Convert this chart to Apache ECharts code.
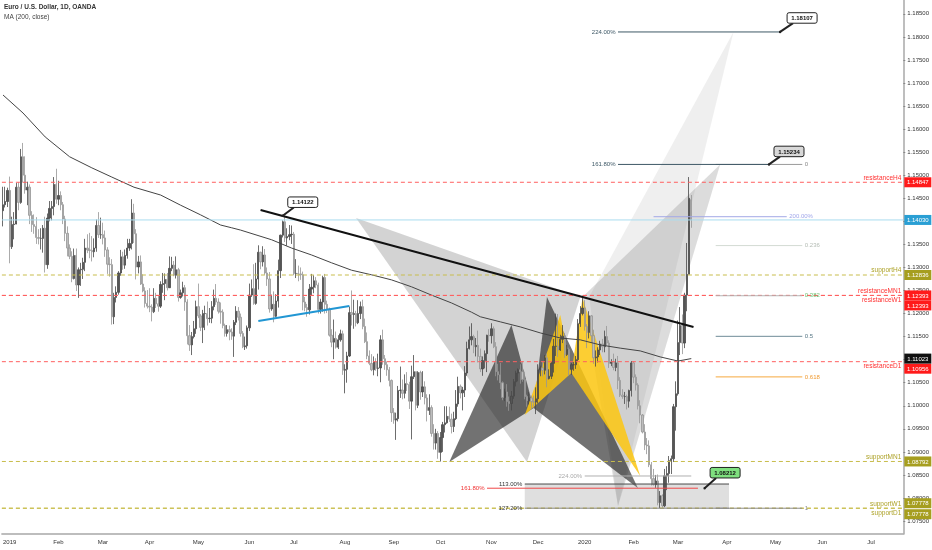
<!DOCTYPE html>
<html><head><meta charset="utf-8">
<script src="https://cdn.jsdelivr.net/npm/echarts@6/dist/echarts.min.js"></script>
<style>html,body{margin:0;padding:0;background:#fff}#c{width:932px;height:550px}</style>
</head><body><div id="c"></div>
<script>
const FONT = '"Liberation Sans", Arial, sans-serif';
const monthNames = ['Jan','Feb','Mar','Apr','May','Jun','Jul','Aug','Sep','Oct','Nov','Dec'];

// Trading-day categories (weekdays, no Jan 1 / Dec 25), starting 2018-12-27
const dates = [];
(function(){ const d = new Date(Date.UTC(2018,11,27));
  while (dates.length < 406) { const wd=d.getUTCDay(), m=d.getUTCMonth(), dd=d.getUTCDate();
    if (wd!==0 && wd!==6 && !(m===0&&dd===1) && !(m===11&&dd===25)) dates.push(d.toISOString().slice(0,10));
    d.setUTCDate(dd+1); } })();

// Daily candles [open, high, low, close]
const candles = [
[1.1423,1.1475,1.1389,1.1436],[1.1436,1.1475,1.1430,1.1443],[1.1443,1.1473,1.1431,1.1467],
// Jan 2019
[1.1467,1.1497,1.1309,1.1345],[1.1345,1.1410,1.1340,1.1393],[1.1393,1.1420,1.1361,1.1394],[1.1394,1.1483,1.1395,1.1474],[1.1474,1.1485,1.1424,1.1441],
[1.1441,1.1557,1.1438,1.1540],[1.1540,1.1570,1.1484,1.1500],[1.1500,1.1541,1.1460,1.1468],[1.1468,1.1486,1.1435,1.1474],[1.1474,1.1480,1.1394,1.1413],
[1.1413,1.1422,1.1377,1.1393],[1.1393,1.1415,1.1373,1.1389],[1.1389,1.1409,1.1351,1.1365],[1.1365,1.1383,1.1350,1.1363],[1.1363,1.1385,1.1339,1.1363],
[1.1363,1.1392,1.1332,1.1385],[1.1385,1.1410,1.1289,1.1306],[1.1306,1.1417,1.1297,1.1407],[1.1407,1.1444,1.1400,1.1428],[1.1428,1.1444,1.1402,1.1432],
[1.1432,1.1496,1.1413,1.1480],[1.1480,1.1514,1.1438,1.1448],
// Feb 2019
[1.1448,1.1488,1.1435,1.1456],[1.1456,1.1465,1.1424,1.1436],[1.1436,1.1442,1.1394,1.1405],[1.1405,1.1412,1.1357,1.1374],[1.1374,1.1389,1.1324,1.1342],
[1.1342,1.1350,1.1318,1.1324],[1.1324,1.1335,1.1268,1.1276],[1.1276,1.1341,1.1274,1.1326],[1.1326,1.1341,1.1249,1.1262],[1.1262,1.1300,1.1234,1.1295],
[1.1295,1.1310,1.1260,1.1296],[1.1296,1.1321,1.1275,1.1311],[1.1311,1.1362,1.1292,1.1342],[1.1342,1.1372,1.1331,1.1338],[1.1338,1.1375,1.1320,1.1337],
[1.1337,1.1368,1.1313,1.1334],[1.1334,1.1363,1.1322,1.1342],[1.1342,1.1404,1.1334,1.1391],[1.1391,1.1420,1.1364,1.1371],[1.1371,1.1408,1.1362,1.1371],
// Mar 2019
[1.1371,1.1397,1.1350,1.1364],[1.1364,1.1380,1.1323,1.1338],[1.1338,1.1344,1.1286,1.1307],[1.1307,1.1322,1.1280,1.1306],[1.1306,1.1318,1.1176,1.1193],
[1.1193,1.1245,1.1177,1.1235],[1.1235,1.1259,1.1224,1.1246],[1.1246,1.1292,1.1241,1.1288],[1.1288,1.1338,1.1282,1.1323],[1.1323,1.1334,1.1295,1.1305],
[1.1305,1.1339,1.1297,1.1326],[1.1326,1.1362,1.1319,1.1342],[1.1342,1.1362,1.1336,1.1352],[1.1352,1.1448,1.1339,1.1418],[1.1418,1.1438,1.1353,1.1373],
[1.1373,1.1383,1.1274,1.1301],[1.1301,1.1325,1.1287,1.1312],[1.1312,1.1326,1.1262,1.1264],[1.1264,1.1285,1.1246,1.1249],[1.1249,1.1257,1.1213,1.1222],
[1.1222,1.1251,1.1211,1.1216],
// Apr 2019
[1.1216,1.1255,1.1203,1.1214],[1.1214,1.1220,1.1183,1.1204],[1.1204,1.1255,1.1201,1.1233],[1.1233,1.1245,1.1212,1.1221],[1.1221,1.1238,1.1204,1.1216],
[1.1216,1.1270,1.1212,1.1263],[1.1263,1.1288,1.1245,1.1265],[1.1265,1.1287,1.1229,1.1274],[1.1274,1.1288,1.1250,1.1256],[1.1256,1.1324,1.1257,1.1298],
[1.1298,1.1323,1.1292,1.1305],[1.1305,1.1314,1.1281,1.1283],[1.1283,1.1324,1.1276,1.1295],[1.1295,1.1299,1.1226,1.1235],[1.1235,1.1252,1.1232,1.1245],
[1.1245,1.1269,1.1237,1.1256],[1.1256,1.1262,1.1206,1.1225],[1.1225,1.1231,1.1133,1.1152],[1.1152,1.1175,1.1119,1.1132],[1.1132,1.1160,1.1110,1.1150],
[1.1150,1.1184,1.1146,1.1167],[1.1167,1.1228,1.1156,1.1215],
// May 2019
[1.1215,1.1265,1.1190,1.1195],[1.1195,1.1199,1.1162,1.1170],[1.1170,1.1208,1.1136,1.1200],[1.1200,1.1217,1.1164,1.1200],[1.1200,1.1226,1.1174,1.1189],
[1.1189,1.1212,1.1180,1.1190],[1.1190,1.1227,1.1179,1.1215],[1.1215,1.1252,1.1207,1.1233],[1.1233,1.1264,1.1219,1.1225],[1.1225,1.1233,1.1200,1.1205],
[1.1205,1.1224,1.1178,1.1203],[1.1203,1.1209,1.1168,1.1174],[1.1174,1.1178,1.1150,1.1157],[1.1157,1.1175,1.1150,1.1165],[1.1165,1.1174,1.1142,1.1160],
[1.1160,1.1168,1.1143,1.1151],[1.1151,1.1186,1.1106,1.1181],[1.1181,1.1216,1.1175,1.1205],[1.1205,1.1214,1.1185,1.1192],[1.1192,1.1200,1.1150,1.1157],
[1.1157,1.1162,1.1125,1.1128],[1.1128,1.1150,1.1121,1.1130],[1.1130,1.1174,1.1124,1.1169],
// Jun 2019
[1.1169,1.1265,1.1162,1.1240],[1.1240,1.1274,1.1236,1.1254],[1.1254,1.1307,1.1219,1.1222],[1.1222,1.1310,1.1219,1.1275],[1.1275,1.1348,1.1252,1.1333],
[1.1333,1.1334,1.1296,1.1312],[1.1312,1.1346,1.1302,1.1327],[1.1327,1.1340,1.1284,1.1288],[1.1288,1.1300,1.1260,1.1275],[1.1275,1.1290,1.1202,1.1210],
[1.1210,1.1241,1.1206,1.1220],[1.1220,1.1248,1.1181,1.1194],[1.1194,1.1242,1.1192,1.1227],[1.1227,1.1317,1.1213,1.1293],[1.1293,1.1371,1.1277,1.1370],
[1.1370,1.1402,1.1365,1.1399],[1.1399,1.1412,1.1355,1.1364],[1.1364,1.1385,1.1347,1.1367],[1.1367,1.1392,1.1359,1.1371],[1.1371,1.1391,1.1351,1.1372],
// Jul 2019
[1.1372,1.1377,1.1283,1.1287],[1.1287,1.1318,1.1277,1.1287],[1.1287,1.1304,1.1270,1.1286],[1.1286,1.1300,1.1273,1.1284],[1.1284,1.1291,1.1207,1.1225],
[1.1225,1.1236,1.1205,1.1213],[1.1213,1.1221,1.1193,1.1208],[1.1208,1.1264,1.1198,1.1253],[1.1253,1.1286,1.1238,1.1257],[1.1257,1.1283,1.1244,1.1271],
[1.1271,1.1279,1.1255,1.1262],[1.1262,1.1267,1.1200,1.1209],[1.1209,1.1232,1.1200,1.1225],[1.1225,1.1282,1.1204,1.1278],[1.1278,1.1286,1.1200,1.1220],
[1.1220,1.1228,1.1201,1.1210],[1.1210,1.1213,1.1150,1.1153],[1.1153,1.1166,1.1127,1.1138],[1.1138,1.1187,1.1101,1.1146],[1.1146,1.1161,1.1124,1.1127],
[1.1127,1.1153,1.1123,1.1143],[1.1143,1.1165,1.1139,1.1156],[1.1156,1.1163,1.1067,1.1077],
// Aug 2019
[1.1077,1.1090,1.1027,1.1079],[1.1079,1.1117,1.1050,1.1108],[1.1108,1.1215,1.1106,1.1202],[1.1202,1.1250,1.1174,1.1198],[1.1198,1.1230,1.1167,1.1200],
[1.1200,1.1206,1.1172,1.1180],[1.1180,1.1229,1.1177,1.1200],[1.1200,1.1226,1.1188,1.1215],[1.1215,1.1230,1.1166,1.1172],[1.1172,1.1189,1.1136,1.1139],
[1.1139,1.1159,1.1101,1.1108],[1.1108,1.1120,1.1088,1.1092],[1.1092,1.1112,1.1075,1.1078],[1.1078,1.1107,1.1066,1.1095],[1.1095,1.1103,1.1076,1.1081],
[1.1081,1.1113,1.1064,1.1082],[1.1082,1.1153,1.1051,1.1143],[1.1143,1.1165,1.1089,1.1102],[1.1102,1.1110,1.1078,1.1089],[1.1089,1.1096,1.1065,1.1078],
[1.1078,1.1084,1.1042,1.1055],[1.1055,1.1057,1.0965,1.0985],
// Sep 2019
[1.0985,1.0995,1.0961,1.0969],[1.0969,1.0985,1.0926,1.0972],[1.0972,1.1043,1.0966,1.1033],[1.1033,1.1085,1.1017,1.1034],[1.1034,1.1057,1.1014,1.1027],
[1.1027,1.1068,1.1016,1.1048],[1.1048,1.1073,1.1032,1.1046],[1.1046,1.1052,1.0993,1.1010],[1.1010,1.1087,1.0927,1.1063],[1.1063,1.1110,1.1058,1.1074],
[1.1074,1.1074,1.0990,1.1001],[1.1001,1.1075,1.0995,1.1072],[1.1072,1.1076,1.1013,1.1030],[1.1030,1.1075,1.1019,1.1041],[1.1041,1.1053,1.1003,1.1017],
[1.1017,1.1025,1.0966,1.0990],[1.0990,1.1025,1.0980,1.0996],[1.0996,1.1001,1.0933,1.0940],[1.0940,1.0960,1.0905,1.0919],[1.0919,1.0950,1.0905,1.0940],
[1.0940,1.0945,1.0885,1.0899],
// Oct 2019
[1.0899,1.0943,1.0879,1.0931],[1.0931,1.0965,1.0900,1.0959],[1.0959,1.0999,1.0942,1.0963],[1.0963,1.0999,1.0961,1.0977],[1.0977,1.0998,1.0965,1.0971],
[1.0971,1.0983,1.0940,1.0955],[1.0955,1.0987,1.0943,1.0972],[1.0972,1.1034,1.0969,1.1004],[1.1004,1.1063,1.0998,1.1042],[1.1042,1.1046,1.1016,1.1028],
[1.1028,1.1041,1.0990,1.1034],[1.1034,1.1086,1.1019,1.1071],[1.1071,1.1139,1.1065,1.1124],[1.1124,1.1172,1.1122,1.1143],[1.1143,1.1179,1.1131,1.1150],
[1.1150,1.1154,1.1114,1.1128],[1.1128,1.1147,1.1107,1.1131],[1.1131,1.1163,1.1094,1.1107],[1.1107,1.1124,1.1073,1.1080],[1.1080,1.1107,1.1065,1.1098],
[1.1098,1.1120,1.1081,1.1113],[1.1113,1.1154,1.1073,1.1153],[1.1153,1.1166,1.1139,1.1152],
// Nov 2019
[1.1152,1.1179,1.1135,1.1167],[1.1167,1.1172,1.1125,1.1128],[1.1128,1.1138,1.1064,1.1074],[1.1074,1.1091,1.1055,1.1067],[1.1067,1.1093,1.1036,1.1050],
[1.1050,1.1053,1.1012,1.1018],[1.1018,1.1037,1.1010,1.1030],[1.1030,1.1047,1.0998,1.1009],[1.1009,1.1020,1.0989,1.1005],[1.1005,1.1032,1.0990,1.1021],
[1.1021,1.1058,1.1015,1.1052],[1.1052,1.1076,1.1042,1.1071],[1.1071,1.1081,1.1053,1.1078],[1.1078,1.1090,1.1048,1.1074],[1.1074,1.1097,1.1052,1.1057],
[1.1057,1.1074,1.1014,1.1020],[1.1020,1.1024,1.0998,1.1011],[1.1011,1.1030,1.1003,1.1017],[1.1017,1.1022,1.0993,1.1009],[1.1009,1.1022,1.0998,1.1008],
[1.1008,1.1040,1.0982,1.1015],
// Dec 2019
[1.1015,1.1090,1.1005,1.1078],[1.1078,1.1087,1.1064,1.1082],[1.1082,1.1097,1.1064,1.1077],[1.1077,1.1110,1.1068,1.1104],[1.1104,1.1113,1.1040,1.1059],
[1.1059,1.1079,1.1057,1.1064],[1.1064,1.1096,1.1058,1.1092],[1.1092,1.1145,1.1072,1.1129],[1.1129,1.1200,1.1108,1.1129],[1.1129,1.1199,1.1106,1.1121],
[1.1121,1.1154,1.1119,1.1144],[1.1144,1.1175,1.1136,1.1151],[1.1151,1.1158,1.1104,1.1111],[1.1111,1.1132,1.1108,1.1122],[1.1122,1.1126,1.1065,1.1079],
[1.1079,1.1093,1.1067,1.1089],[1.1089,1.1095,1.1076,1.1089],[1.1089,1.1108,1.1080,1.1100],[1.1100,1.1188,1.1097,1.1178],[1.1178,1.1216,1.1171,1.1200],
[1.1200,1.1239,1.1196,1.1212],
// Jan 2020
[1.1212,1.1229,1.1163,1.1172],[1.1172,1.1177,1.1125,1.1159],[1.1159,1.1205,1.1146,1.1195],[1.1195,1.1197,1.1136,1.1152],[1.1152,1.1165,1.1091,1.1104],
[1.1104,1.1120,1.1085,1.1106],[1.1106,1.1127,1.1094,1.1121],[1.1121,1.1141,1.1110,1.1134],[1.1134,1.1145,1.1116,1.1128],[1.1128,1.1163,1.1116,1.1150],
[1.1150,1.1173,1.1130,1.1136],[1.1136,1.1142,1.1082,1.1092],[1.1092,1.1101,1.1086,1.1095],[1.1095,1.1113,1.1077,1.1083],[1.1083,1.1102,1.1075,1.1093],
[1.1093,1.1108,1.1036,1.1055],[1.1055,1.1062,1.1019,1.1023],[1.1023,1.1036,1.1015,1.1020],[1.1020,1.1030,1.1004,1.1020],[1.1020,1.1024,1.0992,1.1010],
[1.1010,1.1035,1.0996,1.1033],[1.1033,1.1097,1.1020,1.1093],
// Feb 2020
[1.1093,1.1096,1.1049,1.1062],[1.1062,1.1068,1.1033,1.1045],[1.1045,1.1049,1.0992,1.1000],[1.1000,1.1012,1.0962,1.0980],[1.0980,1.0982,1.0940,1.0943],
[1.0943,1.0960,1.0904,1.0915],[1.0915,1.0930,1.0895,1.0913],[1.0913,1.0925,1.0867,1.0872],[1.0872,1.0878,1.0827,1.0842],[1.0842,1.0863,1.0827,1.0829],
[1.0829,1.0850,1.0822,1.0837],[1.0837,1.0851,1.0784,1.0790],[1.0790,1.0815,1.0778,1.0805],[1.0805,1.0808,1.0778,1.0783],[1.0783,1.0863,1.0780,1.0848],
[1.0848,1.0869,1.0817,1.0853],[1.0853,1.0891,1.0833,1.0881],[1.0881,1.0892,1.0852,1.0885],[1.0885,1.1004,1.0878,1.0998],[1.0998,1.1053,1.0946,1.1026],
// Mar 2020
[1.1026,1.1185,1.1022,1.1137],[1.1137,1.1214,1.1110,1.1174],[1.1174,1.1198,1.1112,1.1136],[1.1136,1.1245,1.1125,1.1240],[1.1240,1.1353,1.1205,1.1285],
[1.1285,1.1496,1.1285,1.1450],[1.1447,1.1457,1.1386,1.1403]
];

// 200-day moving average readings [bar index, value]
const maPoints = [[0,1.1674],[9,1.1635],[19,1.1583],[30,1.1540],[40,1.1516],[49,1.1496],[59,1.1474],[71,1.1457],[80,1.1435],[89,1.1414],
[98,1.1392],[103,1.1386],[107,1.1381],[121,1.1360],[130,1.1342],[139,1.1327],[148,1.1310],[157,1.1294],[166,1.1284],[175,1.1273],
[184,1.1258],[193,1.1240],[202,1.1223],[211,1.1203],[215,1.1193],[224,1.1182],[233,1.1171],[242,1.1158],[251,1.1147],[260,1.1143],
[269,1.1132],[278,1.1125],[287,1.1119],[296,1.1106],[304,1.1097],[310,1.11023]];

// Horizontal levels
const levelNames  = ['resistanceH4','supportH4','resistanceMN1','resistanceW1','resistanceD1','supportMN1','supportW1','supportD1','',''];
const levelValues = [1.14847,1.12836,1.12393,1.12393,1.10956,1.08792,1.07778,1.07778,1.14030,1.11023];
const RED = {line:'#ff6060', text:'#ff3030', box:'#ff1a1a', dash:true};
const OLV = {line:'#c8bd4c', text:'#aea32a', box:'#a69e1f', dash:true};
const levelStyle = [
  Object.assign({below:false, boxDy:0}, RED), Object.assign({below:false, boxDy:0}, OLV),
  Object.assign({below:false, boxDy:0}, RED), Object.assign({below:true, boxDy:10}, RED),
  Object.assign({below:true, boxDy:7}, RED),  Object.assign({below:false, boxDy:0}, OLV),
  Object.assign({below:false, boxDy:-5}, OLV), Object.assign({below:true, boxDy:6}, OLV),
  {line:'#a9dcef', box:'#2a9fd4', dash:false, boxDy:0},
  {line:null, box:'#111111', boxDy:0}
];

// Harmonic pattern triangles: vertices [bar index, price]
const patternPoints = [
  [[159.1,1.14072],[236.4,1.08781],[260.2,1.12359]],
  [[263.8,1.12359],[276.8,1.07826],[328.9,1.18107]],
  [[261.1,1.12359],[276.8,1.07826],[323.1,1.15234]],
  [[200.8,1.08781],[228.7,1.11752],[239.1,1.09952]],
  [[239.1,1.09952],[245.3,1.12359],[285.8,1.08212]],
  [[234.6,1.09800],[251.2,1.11969],[255.7,1.10711]],
  [[255.7,1.10711],[261.1,1.12337],[287.1,1.08477]],
  [[234.6,1.08303],[326.7,1.08303],[326.7,1.07778],[234.6,1.07778]]
];
const patternFills = ['rgba(120,120,120,0.33)','rgba(120,120,120,0.12)','rgba(120,120,120,0.26)',
  'rgba(35,35,35,0.64)','rgba(35,35,35,0.64)','rgba(252,198,18,0.86)','rgba(252,198,18,0.86)','rgba(140,140,140,0.28)'];

// Line drawings [fromIdx, fromPrice, toIdx, toPrice]
const segPoints = [
  [116.4,1.14246,310.5,1.11708],
  [114.6,1.11838,155.5,1.12164],
  [320.8,1.15234,360.4,1.15234],
  [320.8,1.13474,360.4,1.13474],
  [320.8,1.12386,360.4,1.12386],
  [320.8,1.11506,360.4,1.11506],
  [320.8,1.10626,360.4,1.10626],
  [320.8,1.07778,360.4,1.07778],
  [292.8,1.14100,353.1,1.14100],
  [276.8,1.18107,350.1,1.18107],
  [276.8,1.15234,344.6,1.15234],
  [261.5,1.08477,309.6,1.08477],
  [234.6,1.08303,326.7,1.08303],
  [234.6,1.07778,326.7,1.07778],
  [218.4,1.08212,313.2,1.08212]
];
const segStyle = [
  {c:'#111',w:2},
  {c:'#2196d3',w:2},
  {c:'#9a9a9a',w:1,right:'0',rc:'#888'},
  {c:'#d3dbd3',w:1,right:'0.236',rc:'#b4bcb4'},
  {c:'#b5b5b5',w:1,right:'0.382',rc:'#6cc070'},
  {c:'#6f8b97',w:1,right:'0.5',rc:'#567684'},
  {c:'#f6a83e',w:1,right:'0.618',rc:'#f09a30'},
  {c:'#8c8c8c',w:1,right:'1',rc:'#888'},
  {c:'#a3a9e6',w:1,right:'200.00%',rc:'#a0a6ea'},
  {c:'#3e5866',w:1,left:'224.00%',lc:'#3e5866'},
  {c:'#3e5866',w:1,left:'161.80%',lc:'#3e5866'},
  {c:'#b0b0b0',w:1,left:'224.00%',lc:'#aaaaaa'},
  {c:'#4a4a4a',w:1,left:'113.00%',lc:'#333'},
  {c:'#8a8a8a',w:1,left:'127.20%',lc:'#333'},
  {c:'#f04848',w:1,left:'161.80%',lc:'#f03030'}
];

// Price callouts [bar index, price]
const calloutPoints = [[126.2,1.14122],[350.1,1.18107],[344.6,1.15234],[315.5,1.08212]];
const calloutStyle = [
  {fill:'#ffffff', dx:20, dy:-13.5}, {fill:'#ffffff', dx:22, dy:-14},
  {fill:'#d8d8d8', dx:20, dy:-13}, {fill:'#7fe07f', dx:20.5, dy:-15.5}
];

const isMonthStart = (i) => i > 0 && dates[i].slice(0,7) !== dates[i-1].slice(0,7);

const chart = echarts.init(document.getElementById('c'), null, {renderer:'canvas'});
chart.setOption({
  animation:false,
  backgroundColor:'#ffffff',
  title:{text:'Euro / U.S. Dollar, 1D, OANDA', subtext:'MA (200, close)', left:4, top:4, itemGap:3, padding:0,
    textStyle:{fontSize:6.5, fontWeight:'bold', color:'#333', fontFamily:FONT},
    subtextStyle:{fontSize:6.5, color:'#444', fontFamily:FONT}},
  grid:{left:0, right:28, top:0, bottom:16},
  xAxis:{type:'category', data:dates, boundaryGap:true,
    axisLine:{lineStyle:{color:'#a8a8a8', width:1.5}},
    axisTick:{interval:(i)=>isMonthStart(i), length:2, alignWithLabel:true, lineStyle:{color:'#888'}},
    axisLabel:{interval:(i)=>isMonthStart(i), fontSize:6, color:'#333', fontFamily:FONT, margin:5,
      formatter:(v)=>{ const m=+v.slice(5,7); return m===1 ? v.slice(0,4) : monthNames[m-1]; }},
    splitLine:{show:false}},
  yAxis:{type:'value', position:'right', min:1.07219, max:1.188, splitNumber:23, scale:true,
    axisLine:{show:true, lineStyle:{color:'#a8a8a8', width:1.5}},
    axisTick:{show:true, length:2, lineStyle:{color:'#888'}},
    axisLabel:{fontSize:6, color:'#333', fontFamily:FONT, margin:4, showMinLabel:false, showMaxLabel:false,
      formatter:(v)=>v.toFixed(5)},
    splitLine:{show:false}},
  series:[
    {type:'custom', name:'patterns', z:1, clip:true,
      encode:{x:0, y:1},
      data: patternPoints.map(p=>p[0]),
      renderItem:(params, api)=>{
        const pts = patternPoints[params.dataIndex].map(p=>api.coord(p));
        return {type:'polygon', shape:{points:pts}, style:{fill:patternFills[params.dataIndex]}};
      }},
    {type:'candlestick', name:'EURUSD', z:3, barWidth:1.8,
      data: candles.map(c=>[c[0],c[3],c[2],c[1]]),
      itemStyle:{color:'#555555', color0:'#bdbdbd', borderColor:'#474747', borderColor0:'#959595', borderWidth:0.8}},
    {type:'line', name:'MA', z:4, data:maPoints, showSymbol:false, symbol:'none',
      lineStyle:{color:'#444', width:1}},
    {type:'custom', name:'levels', z:5, clip:false,
      encode:{x:0, y:1},
      data: levelValues.map(v=>[0,v]),
      renderItem:(params, api)=>{
        const i = params.dataIndex, st = levelStyle[i], cs = params.coordSys;
        const y = api.coord([0, api.value(1)])[1];
        const right = cs.x + cs.width;
        const ch = [];
        if (st.line) ch.push({type:'line', shape:{x1:cs.x, y1:y, x2:right, y2:y},
          style:{stroke:st.line, lineWidth:1, lineDash: st.dash ? [4,3] : null}});
        if (levelNames[i]) ch.push({type:'text', style:{x:right-2, y: st.below ? y+1.5 : y-1, text:levelNames[i],
          align:'right', verticalAlign: st.below ? 'top' : 'bottom', fill:st.text, font:'6.5px '+FONT}});
        const by = y + st.boxDy;
        ch.push({type:'rect', shape:{x:right+1, y:by-5, width:27, height:10}, style:{fill:st.box}});
        ch.push({type:'text', style:{x:right+14.5, y:by+0.5, text:api.value(1).toFixed(5), align:'center',
          verticalAlign:'middle', fill:'#fff', font:'6px '+FONT}});
        return {type:'group', children:ch};
      }},
    {type:'custom', name:'drawings', z:6, clip:false,
      encode:{x:0, y:1},
      data: segPoints.map(s=>[s[0], s[1]]),
      renderItem:(params, api)=>{
        const s = segPoints[params.dataIndex], st = segStyle[params.dataIndex];
        const a = api.coord([s[0], s[1]]), b = api.coord([s[2], s[3]]);
        const ch = [{type:'line', shape:{x1:a[0], y1:a[1], x2:b[0], y2:b[1]}, style:{stroke:st.c, lineWidth:st.w}}];
        if (st.left) ch.push({type:'text', style:{x:a[0]-2.5, y:a[1], text:st.left, align:'right', verticalAlign:'middle', fill:st.lc, font:'6px '+FONT}});
        if (st.right) ch.push({type:'text', style:{x:b[0]+2.5, y:b[1], text:st.right, align:'left', verticalAlign:'middle', fill:st.rc, font:'6px '+FONT}});
        return {type:'group', children:ch};
      }},
    {type:'custom', name:'callouts', z:7, clip:false,
      encode:{x:0, y:1},
      data: calloutPoints,
      renderItem:(params, api)=>{
        const st = calloutStyle[params.dataIndex];
        const p = api.coord([api.value(0), api.value(1)]);
        const w = 30, h = 10.5, cx = p[0]+st.dx, cy = p[1]+st.dy;
        return {type:'group', children:[
          {type:'line', shape:{x1:p[0], y1:p[1], x2:cx-w/2+6, y2:cy+h/2}, style:{stroke:'#222', lineWidth:2}},
          {type:'circle', shape:{cx:p[0], cy:p[1], r:1.2}, style:{fill:'#222'}},
          {type:'rect', shape:{x:cx-w/2, y:cy-h/2, width:w, height:h, r:2}, style:{fill:st.fill, stroke:'#222', lineWidth:1}},
          {type:'text', style:{x:cx, y:cy+0.5, text:api.value(1).toFixed(5), align:'center', verticalAlign:'middle',
            fill:'#111', font:'bold 6px '+FONT}}
        ]};
      }}
  ]
});
</script></body></html>
